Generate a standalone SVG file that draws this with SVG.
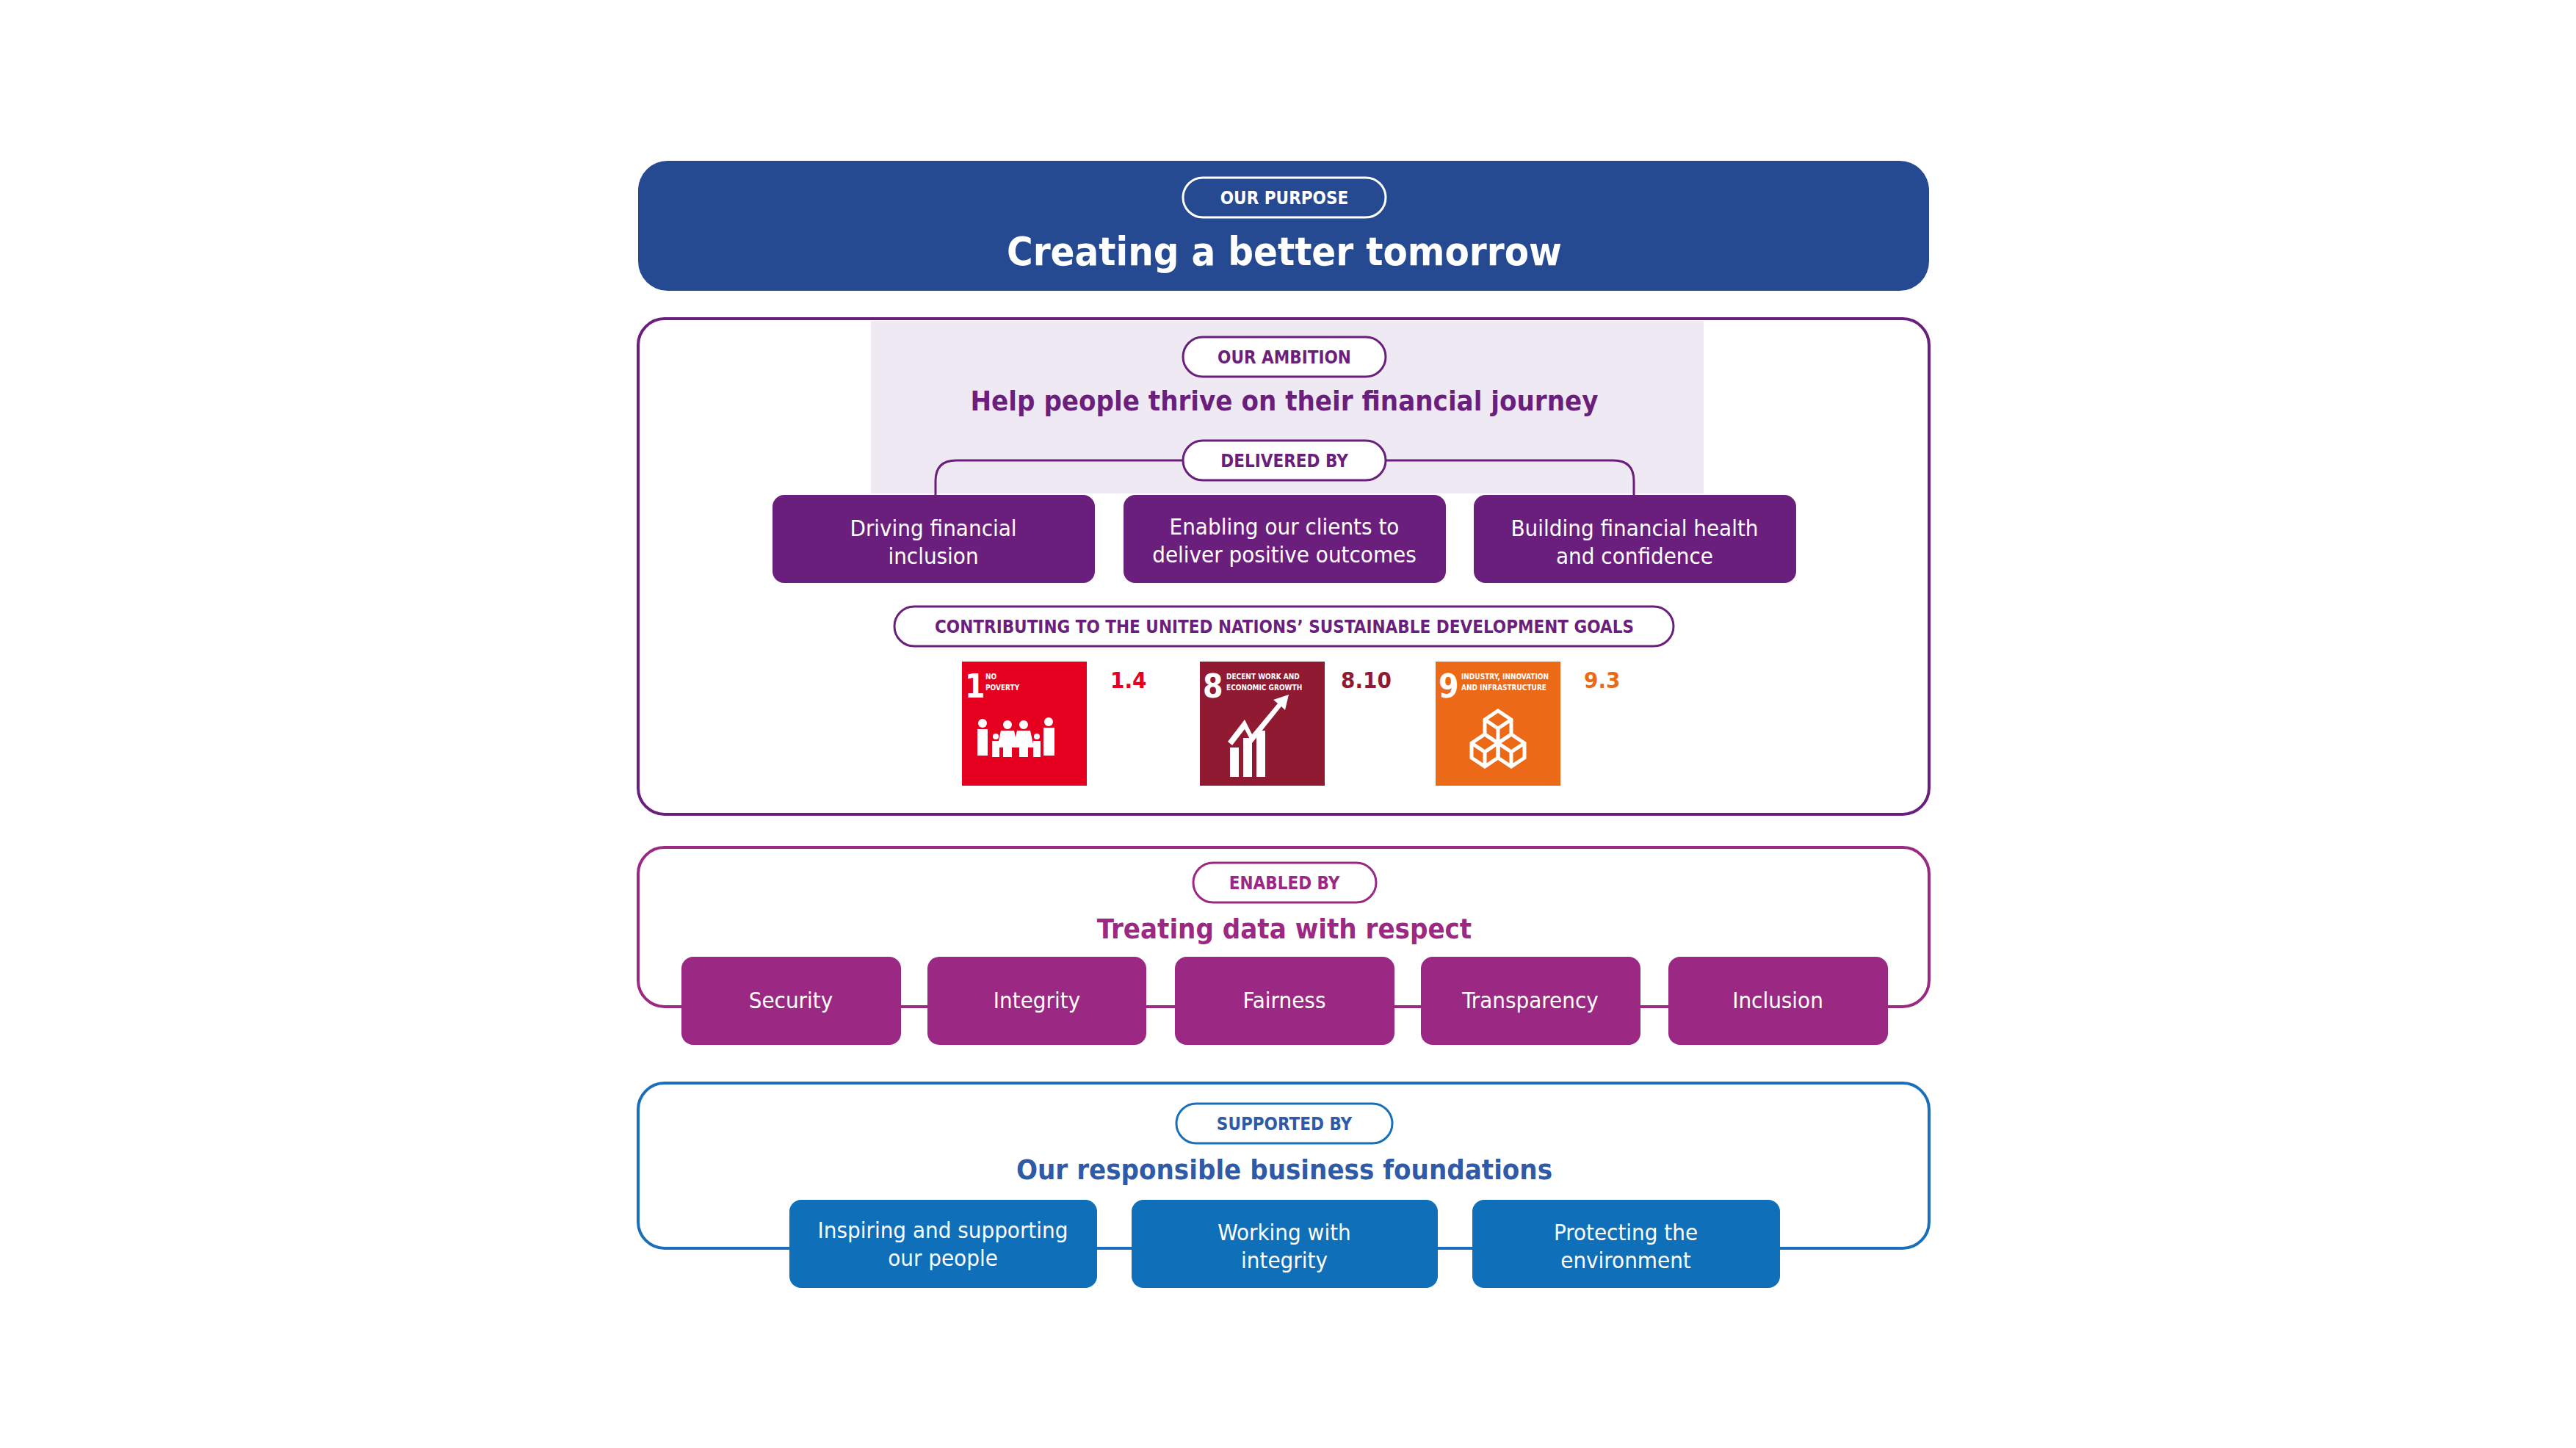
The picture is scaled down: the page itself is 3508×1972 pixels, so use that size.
<svg xmlns="http://www.w3.org/2000/svg" width="3508" height="1972" viewBox="0 0 3508 1972">
<style>
text{font-family:"DejaVu Sans Condensed","Liberation Sans",sans-serif;text-anchor:middle}
.pill{fill:#fff;stroke-width:3}
.pl{font-size:24px;font-weight:bold}
.h{font-size:38px;font-weight:bold}
.bt{fill:#fff;font-size:31px}
.num{font-size:31px;font-weight:bold;text-anchor:start}
.sdgt{fill:#fff;font-size:10px;font-weight:bold;text-anchor:start}
.sdgn{fill:#fff;font-size:44px;font-weight:bold;text-anchor:start}
.ic{fill:none;stroke:#fff;stroke-width:5}
</style>
<rect width="3508" height="1972" fill="#fff"/>
<g id="connectors" fill="none">
<path d="M1274,674 V655 Q1274,627 1302,627 H2197 Q2225,627 2225,655 V674" stroke="#6b1f7c" stroke-width="3"/>
<line x1="1491" y1="735" x2="2007" y2="735" stroke="#6b1f7c" stroke-width="3"/>
</g>
<g id="purpose">
<rect x="869" y="219" width="1758" height="177" rx="40" fill="#264a91"/>
<rect x="1611" y="242" width="276" height="54" rx="27" fill="#264a91" stroke="#fff" stroke-width="3"/>
<text class="pl" x="1749" y="278" fill="#fff">OUR PURPOSE</text>
<text x="1749" y="361" fill="#fff" font-size="54" font-weight="bold">Creating a better tomorrow</text>
</g>
<g id="ambition">
<rect x="869" y="434" width="1758" height="675" rx="36" fill="#fff" stroke="#6b1f7c" stroke-width="4"/>
<rect x="1186" y="437" width="1134" height="235" fill="#efe9f3"/>
<path d="M1274,674 V655 Q1274,627 1302,627 H2197 Q2225,627 2225,655 V674" fill="none" stroke="#6b1f7c" stroke-width="3"/>
<rect class="pill" x="1611" y="459" width="276" height="54" rx="27" stroke="#6b1f7c"/>
<text class="pl" x="1749" y="495" fill="#6b1f7c">OUR AMBITION</text>
<text class="h" x="1749" y="559" fill="#6b1f7c">Help people thrive on their financial journey</text>
<rect class="pill" x="1611" y="600" width="276" height="54" rx="27" stroke="#6b1f7c"/>
<text class="pl" x="1749" y="636" fill="#6b1f7c">DELIVERED BY</text>
</g>
<g id="d1"><rect x="1052" y="674" width="439" height="120" rx="16" fill="#6b1f7c"/><text class="bt" x="1271" y="730">Driving financial</text><text class="bt" x="1271" y="768">inclusion</text></g>
<g id="d2"><rect x="1530" y="674" width="439" height="120" rx="16" fill="#6b1f7c"/><text class="bt" x="1749" y="728">Enabling our clients to</text><text class="bt" x="1749" y="766">deliver positive outcomes</text></g>
<g id="d3"><rect x="2007" y="674" width="439" height="120" rx="16" fill="#6b1f7c"/><text class="bt" x="2226" y="730">Building financial health</text><text class="bt" x="2226" y="768">and confidence</text></g>
<g id="sdg">
<rect class="pill" x="1218" y="826" width="1061" height="54" rx="27" stroke="#6b1f7c"/>
<text class="pl" x="1749" y="862" fill="#6b1f7c">CONTRIBUTING TO THE UNITED NATIONS’ SUSTAINABLE DEVELOPMENT GOALS</text>
</g>
<g id="sdg1">
<rect x="1310" y="901" width="170" height="169" fill="#e5001f"/>
<text class="sdgn" x="1314" y="950">1</text><text class="sdgt" x="1342" y="925">NO</text><text class="sdgt" x="1342" y="940">POVERTY</text>
<g fill="#fff"><circle cx="1338" cy="985" r="6"/><rect x="1331" y="993" width="14" height="36"/><circle cx="1356" cy="1003" r="4"/><rect x="1351" y="1009" width="10" height="22"/><circle cx="1372" cy="987" r="6"/><path d="M1363,995 H1381 L1386,1018 H1358Z"/><rect x="1366" y="1018" width="12" height="13"/><circle cx="1394" cy="987" r="6"/><path d="M1385,995 H1403 L1408,1018 H1380Z"/><rect x="1388" y="1018" width="12" height="13"/><circle cx="1412" cy="1003" r="4"/><rect x="1407" y="1009" width="10" height="22"/><circle cx="1428" cy="983" r="6"/><rect x="1421" y="991" width="15" height="38"/></g>
<text class="num" x="1512" y="937" fill="#e5001f">1.4</text>
</g>
<g id="sdg8">
<rect x="1634" y="901" width="170" height="169" fill="#8f1a32"/>
<text class="sdgn" x="1638" y="950">8</text><text class="sdgt" x="1670" y="925">DECENT WORK AND</text><text class="sdgt" x="1670" y="940">ECONOMIC GROWTH</text>
<g fill="#fff"><rect x="1675" y="1018" width="12" height="40"/><rect x="1693" y="1005" width="12" height="53"/><rect x="1711" y="995" width="12" height="63"/><path d="M1672,1010 L1695,980 L1705,1000 L1740,958 L1734,953 L1755,946 L1750,967 L1745,962 L1705,1012 L1695,993 L1678,1015Z"/></g>
<text class="num" x="1826" y="937" fill="#8f1a32">8.10</text>
</g>
<g id="sdg9">
<rect x="1955" y="901" width="170" height="169" fill="#ec6a17"/>
<text class="sdgn" x="1959" y="950">9</text><text class="sdgt" x="1990" y="925">INDUSTRY, INNOVATION</text><text class="sdgt" x="1990" y="940">AND INFRASTRUCTURE</text>
<g class="ic"><path d="M2040,968 L2058,980 V1000 L2040,1012 L2022,1000 V980Z M2022,980 L2040,992 L2058,980 M2040,992 V1012"/><path d="M2022,1000 L2040,1012 V1032 L2022,1044 L2004,1032 V1012Z M2004,1012 L2022,1024 L2040,1012 M2022,1024 V1044"/><path d="M2058,1000 L2076,1012 V1032 L2058,1044 L2040,1032 V1012Z M2040,1012 L2058,1024 L2076,1012 M2058,1024 V1044"/></g>
<text class="num" x="2157" y="937" fill="#ec6a17">9.3</text>
</g>
<g id="enabled">
<rect x="869" y="1154" width="1758" height="217" rx="36" fill="#fff" stroke="#9b2883" stroke-width="4"/>
<rect class="pill" x="1625" y="1175" width="249" height="54" rx="27" stroke="#9b2883"/>
<text class="pl" x="1749" y="1211" fill="#9b2883">ENABLED BY</text>
<text class="h" x="1749" y="1278" fill="#9b2883">Treating data with respect</text>
</g>
<g id="e1"><rect x="928" y="1303" width="299" height="120" rx="16" fill="#9b2883"/><text class="bt" x="1077" y="1373">Security</text></g>
<g id="e2"><rect x="1263" y="1303" width="298" height="120" rx="16" fill="#9b2883"/><text class="bt" x="1412" y="1373">Integrity</text></g>
<g id="e3"><rect x="1600" y="1303" width="299" height="120" rx="16" fill="#9b2883"/><text class="bt" x="1749" y="1373">Fairness</text></g>
<g id="e4"><rect x="1935" y="1303" width="299" height="120" rx="16" fill="#9b2883"/><text class="bt" x="2084" y="1373">Transparency</text></g>
<g id="e5"><rect x="2272" y="1303" width="299" height="120" rx="16" fill="#9b2883"/><text class="bt" x="2421" y="1373">Inclusion</text></g>
<g id="supported">
<rect x="869" y="1475" width="1758" height="225" rx="36" fill="#fff" stroke="#1a6fb8" stroke-width="4"/>
<rect class="pill" x="1602" y="1503" width="294" height="54" rx="27" stroke="#1a6fb8"/>
<text class="pl" x="1749" y="1539" fill="#2e5aa8">SUPPORTED BY</text>
<text class="h" x="1749" y="1606" fill="#2e5aa8">Our responsible business foundations</text>
</g>
<g id="s1"><rect x="1075" y="1634" width="419" height="120" rx="16" fill="#0f6fb8"/><text class="bt" x="1284" y="1686">Inspiring and supporting</text><text class="bt" x="1284" y="1724">our people</text></g>
<g id="s2"><rect x="1541" y="1634" width="417" height="120" rx="16" fill="#0f6fb8"/><text class="bt" x="1749" y="1689">Working with</text><text class="bt" x="1749" y="1727">integrity</text></g>
<g id="s3"><rect x="2005" y="1634" width="419" height="120" rx="16" fill="#0f6fb8"/><text class="bt" x="2214" y="1689">Protecting the</text><text class="bt" x="2214" y="1727">environment</text></g>
</svg>
